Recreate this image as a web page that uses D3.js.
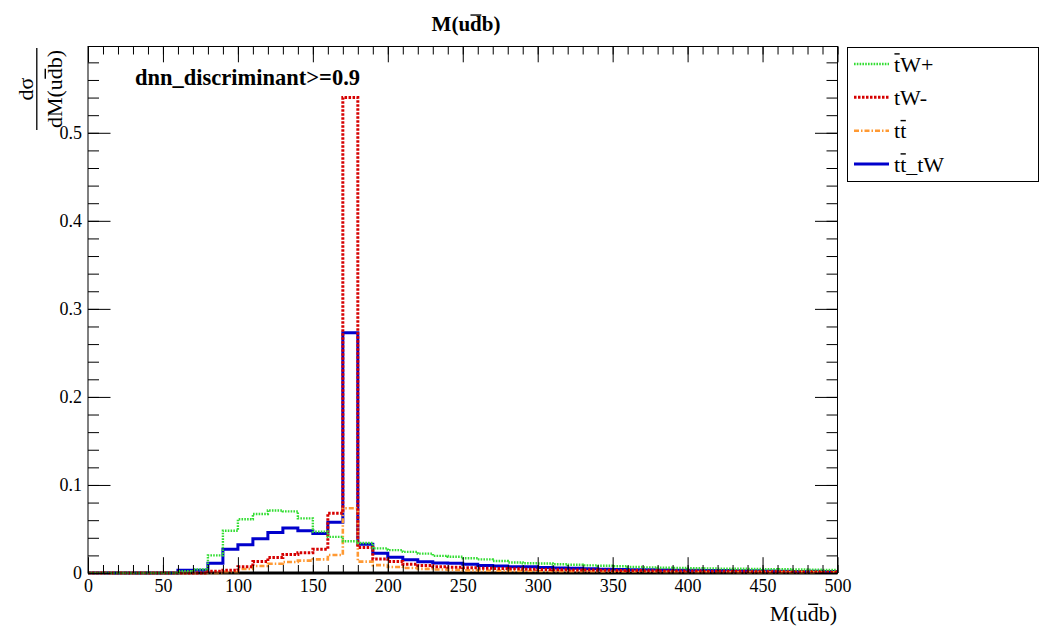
<!DOCTYPE html>
<html><head><meta charset="utf-8">
<script src="https://cdn.jsdelivr.net/npm/d3@7"></script>
<style>
body{margin:0;background:#fff}
svg{display:block}
text{font-family:"Liberation Serif","Tinos","Times New Roman","Nimbus Roman","DejaVu Serif",serif;fill:#000}
</style>
</head><body>
<svg id="c" width="1041" height="631"></svg>
<script>
// ---------------- data ----------------
const binEdges = [0,10,20,30,40,50,60,70,80,90,100,110,120,130,140,150,160,170,180,190,200,
  210,220,230,240,250,260,270,280,290,300,310,320,330,340,350,360,370,380,390,400,
  410,420,430,440,450,460,470,480,490,500];

// tbar W+ (green)
const tWplus = [0,0,0,0,0,0,0.002,0.004,0.020,0.048,
  0.061,0.067,0.071,0.070,0.062,0.047,0.041,0.036,0.034,0.028,
  0.026,0.024,0.022,0.0195,0.0185,0.0167,0.0155,0.0136,0.012,0.011,
  0.0108,0.0099,0.0093,0.0087,0.0082,0.0076,0.0068,0.0064,0.006,0.0057,
  0.0054,0.0052,0.005,0.0048,0.0046,0.0044,0.0042,0.004,0.0038,0.0036];

// t W- (red)
const tWminus = [0,0,0,0,0,0,0,0,0.002,0.003,
  0.007,0.013,0.0177,0.021,0.023,0.027,0.068,0.540,0.029,0.016,
  0.013,0.010,0.0085,0.0072,0.0065,0.006,0.0055,0.005,0.0047,0.0044,
  0.004,0.0038,0.0035,0.0033,0.003,0.0028,0.0027,0.0025,0.0024,0.0023,
  0.0022,0.0021,0.002,0.0019,0.0018,0.0018,0.0017,0.0016,0.0016,0.0015];

// t tbar (orange)
const ttbar = [0,0,0,0,0,0,0,0,0,0.001,
  0.0045,0.008,0.0105,0.0125,0.014,0.0155,0.0205,0.0735,0.0129,0.009,
  0.0068,0.0057,0.0047,0.004,0.0035,0.003,0.0028,0.0026,0.0024,0.0022,
  0.002,0.0019,0.0018,0.0017,0.0016,0.0015,0.0014,0.0014,0.0013,0.0012,
  0.0012,0.0011,0.0011,0.001,0.001,0.0009,0.0009,0.0009,0.0008,0.0008];

// t tbar _ tW (blue)
const ttbar_tW = [0,0,0,0,0,0,0.003,0.003,0.011,0.027,
  0.032,0.039,0.046,0.051,0.048,0.045,0.0576,0.273,0.0326,0.0224,
  0.0178,0.015,0.0129,0.0113,0.011,0.0099,0.0085,0.008,0.0072,0.007,
  0.0062,0.0056,0.0053,0.0047,0.0044,0.0041,0.0038,0.0036,0.0034,0.0032,
  0.003,0.0029,0.0027,0.0026,0.0025,0.0024,0.002,0.0018,0.002,0.0018];

const xTicks = [0,50,100,150,200,250,300,350,400,450,500];
const xTickLabels = ["0","50","100","150","200","250","300","350","400","450","500"];
const yTicks = [0,0.1,0.2,0.3,0.4,0.5];
const yTickLabels = ["0","0.1","0.2","0.3","0.4","0.5"];

// legend entries: text parts, overline flags
const legendNames = [
  [{t:"t",o:true},{t:"W+"}],
  [{t:"tW-"}],
  [{t:"t"},{t:"t",o:true}],
  [{t:"t"},{t:"t",o:true},{t:"_tW"}]
];

// ---------------- layout ----------------
const FONT = "'Liberation Serif','Tinos','Times New Roman','Nimbus Roman','DejaVu Serif',serif";
const svg = d3.select("#c");
const L = 88, R = 837.5, T = 46.5, B = 573;
const x = d3.scaleLinear().domain([0,500]).range([L,R]);
const y = d3.scaleLinear().domain([0,0.598]).range([B,T]);

const styles = [
  {data:ttbar_tW, color:"#0000cc", w:3, dash:null},
  {data:ttbar, color:"#ff9933", w:2.6, dash:"5 2 1.5 2"},
  {data:tWminus, color:"#d60000", w:3, dash:"2.5 1.5"},
  {data:tWplus, color:"#33dd33", w:2.4, dash:"1.6 1.2"}
];
const legendStyles = [styles[3], styles[2], styles[1], styles[0]];

function richText(parent, parts, attrs, fs, ovOff) {
  const t = parent.append("text");
  Object.entries(attrs).forEach(([k,v]) => t.attr(k,v));
  t.style("font-size", fs+"px").style("font-family", FONT);
  parts.forEach(p => t.append("tspan").text(p.t));
  let idx = 0;
  const n = t.node();
  const off = ovOff || 0.76;
  parts.forEach(p => {
    if (p.o) {
      const s = n.getStartPositionOfChar(idx);
      const e = n.getEndPositionOfChar(idx + p.t.length - 1);
      parent.append("line")
        .attr("x1", s.x + fs*0.02).attr("x2", e.x - fs*0.02)
        .attr("y1", s.y - fs*off).attr("y2", s.y - fs*off)
        .attr("stroke", "#000").attr("stroke-width", Math.max(1, fs*0.065));
    }
    idx += p.t.length;
  });
  return t;
}

// baseline black line
svg.append("line").attr("x1",L).attr("x2",R).attr("y1",B).attr("y2",B)
  .attr("stroke","#000").attr("stroke-width",3);

// histograms
const line = d3.line().x(d=>x(d[0])).y(d=>y(d[1])).curve(d3.curveStepAfter);
styles.forEach(s => {
  const pts = s.data.map((v,i)=>[binEdges[i], v]);
  pts.push([binEdges[binEdges.length-1], s.data[s.data.length-1]]);
  svg.append("path").attr("d", line(pts)).attr("fill","none")
    .attr("stroke", s.color).attr("stroke-width", s.w)
    .attr("stroke-dasharray", s.dash);
});

// axes
const yMinor = d3.range(0, 0.5981, 0.02);
const xMinor = d3.range(0, 500.1, 10);
function styleAxis(g){ g.attr("font-family", null); g.select(".domain").remove(); g.selectAll("line").attr("stroke","#000"); g.selectAll("text").style("font-size","18px").style("font-family",FONT); }

svg.append("g").attr("transform",`translate(${L},0)`)
  .call(d3.axisLeft(y).tickValues(yMinor).tickSize(-11).tickFormat("")).call(styleAxis);
svg.append("g").attr("transform",`translate(${L},0)`)
  .call(d3.axisLeft(y).tickValues(yTicks).tickSize(-22.5).tickPadding(6).tickFormat((d,i)=>yTickLabels[i])).call(styleAxis);
svg.append("g").attr("transform",`translate(${R},0)`)
  .call(d3.axisRight(y).tickValues(yMinor).tickSize(-11).tickFormat("")).call(styleAxis);
svg.append("g").attr("transform",`translate(${R},0)`)
  .call(d3.axisRight(y).tickValues(yTicks).tickSize(-22.5).tickFormat("")).call(styleAxis);

svg.append("g").attr("transform",`translate(0,${B})`)
  .call(d3.axisBottom(x).tickValues(xMinor).tickSize(-8).tickFormat("")).call(styleAxis);
svg.append("g").attr("transform",`translate(0,${B})`)
  .call(d3.axisBottom(x).tickValues(xTicks).tickSize(-15.8).tickPadding(6).tickFormat((d,i)=>xTickLabels[i])).call(styleAxis);
svg.append("g").attr("transform",`translate(0,${T})`)
  .call(d3.axisTop(x).tickValues(xMinor).tickSize(-8).tickFormat("")).call(styleAxis);
svg.append("g").attr("transform",`translate(0,${T})`)
  .call(d3.axisTop(x).tickValues(xTicks).tickSize(-15.8).tickFormat("")).call(styleAxis);

// frame
svg.append("rect").attr("x",L).attr("y",T).attr("width",R-L).attr("height",B-T)
  .attr("fill","none").attr("stroke","#000").attr("stroke-width",1);

// title
richText(svg, [{t:"M(u"},{t:"d",o:true},{t:"b)"}], {x:466, y:31, "text-anchor":"middle", "font-weight":"bold"}, 21);

// cut label
svg.append("text").attr("x",135).attr("y",85).attr("font-weight","bold")
  .style("font-size","22.5px").style("font-family",FONT).text("dnn_discriminant>=0.9");

// x axis title
richText(svg, [{t:"M(u"},{t:"d",o:true},{t:"b)"}], {x:837, y:621, "text-anchor":"end"}, 22);

// y axis title (fraction, rotated)
const yt = svg.append("g").attr("transform","translate(0,89) rotate(-90)");
yt.append("text").attr("x",0).attr("y",33).attr("text-anchor","middle").style("font-size","22px").style("font-family",FONT).text("dσ");
yt.append("line").attr("x1",-41).attr("x2",41).attr("y1",36.8).attr("y2",36.8).attr("stroke","#000").attr("stroke-width",1.3);
richText(yt, [{t:"dM(u"},{t:"d",o:true},{t:"b)"}], {x:0, y:62, "text-anchor":"middle"}, 22);

// legend
const lg = svg.append("g");
lg.append("rect").attr("x",847.5).attr("y",47.5).attr("width",191).attr("height",134)
  .attr("fill","#fff").attr("stroke","#000").attr("stroke-width",1);
const rowY = [64, 97.3, 130.7, 164];
legendNames.forEach((parts,i) => {
  const s = legendStyles[i];
  lg.append("line").attr("x1",854).attr("x2",889).attr("y1",rowY[i]).attr("y2",rowY[i])
    .attr("stroke",s.color).attr("stroke-width",s.w).attr("stroke-dasharray",s.dash);
  richText(lg, parts, {x:894, y:rowY[i]+7.5}, 22, 0.8);
});
</script>
</body></html>
